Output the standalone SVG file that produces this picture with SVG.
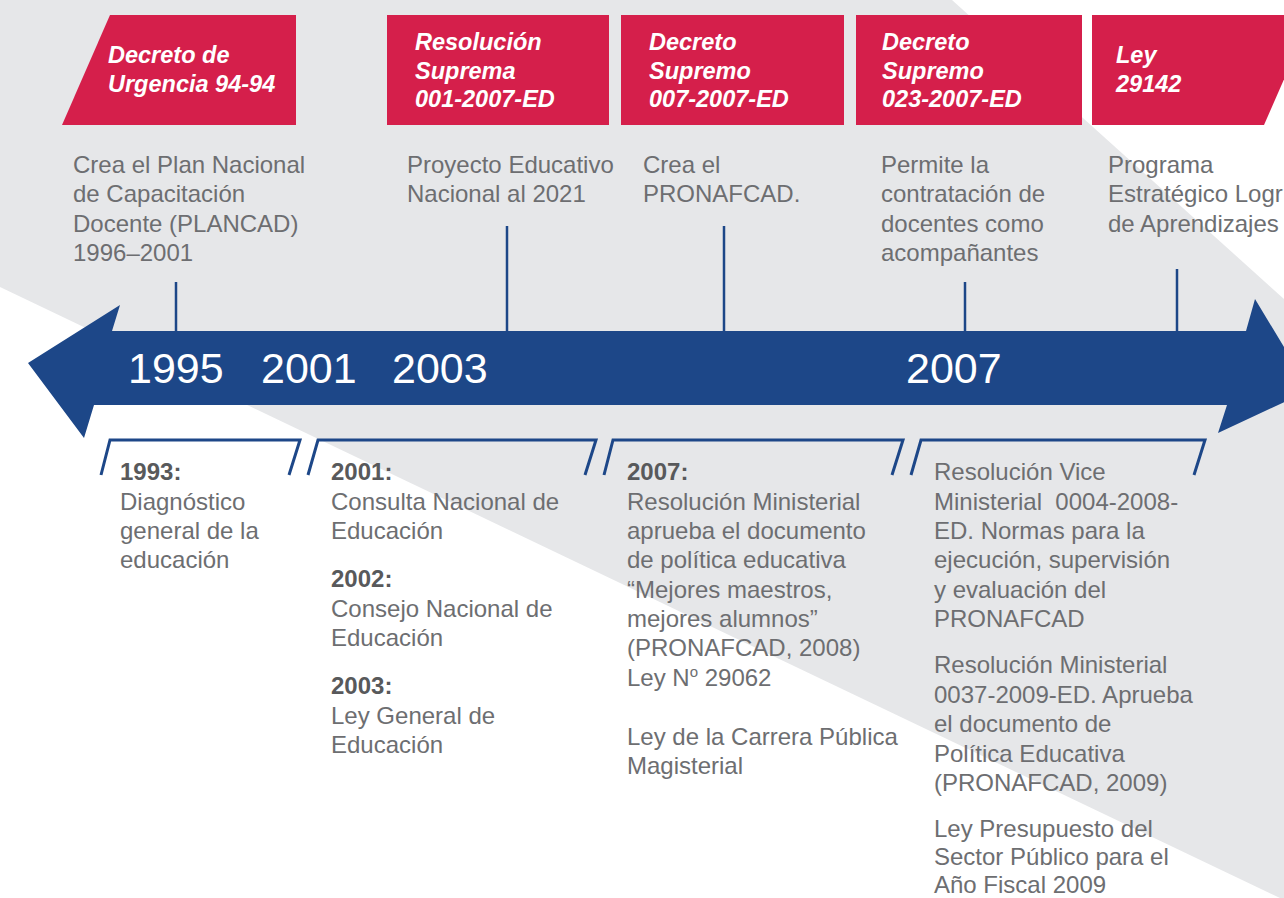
<svg xmlns="http://www.w3.org/2000/svg" width="1284" height="898" viewBox="0 0 1284 898">
<style>
.hd{font-family:"Liberation Sans",Arial,sans-serif;font-weight:bold;font-style:italic;font-size:23.5px;fill:#ffffff}
.ds{font-family:"Liberation Sans",Arial,sans-serif;font-size:24px;fill:#6d6e71}
.bl{font-family:"Liberation Sans",Arial,sans-serif;font-size:24px;font-weight:bold;fill:#58595b}
.yr{font-family:"Liberation Sans",Arial,sans-serif;font-size:43px;fill:#ffffff}
.box{fill:#d51f4b}
.tick{stroke:#1d4788;stroke-width:2.5;fill:none}
.brk{stroke:#1d4788;stroke-width:3;fill:none;stroke-linejoin:miter}
</style>
<rect x="0" y="0" width="1284" height="898" fill="#e6e7e9"/>
<polygon points="952,0 1284,0 1284,299" fill="#ffffff"/>
<polygon points="0,287 1280,898 0,898" fill="#ffffff"/>

<g id="timeline-arrow">
<polygon points="28,363 120,305 112,331 1246,331 1255,299 1310,390 1218,433 1227,405 94,405 84,438" fill="#1d4788"/>
<text class="yr" x="128" y="383">1995</text>
<text class="yr" x="261" y="383">2001</text>
<text class="yr" x="392" y="383">2003</text>
<text class="yr" x="906" y="383">2007</text>
</g>

<g id="connectors">
<line class="tick" x1="176" y1="282" x2="176" y2="331"/>
<line class="tick" x1="507" y1="226" x2="507" y2="331"/>
<line class="tick" x1="724" y1="226" x2="724" y2="331"/>
<line class="tick" x1="965" y1="282" x2="965" y2="331"/>
<line class="tick" x1="1177" y1="269" x2="1177" y2="331"/>
</g>

<g id="node-decreto-urgencia">
<polygon class="box" points="110,15 296,15 296,125 62,125"/>
<text class="hd" x="108" y="63">Decreto de</text>
<text class="hd" x="108" y="92">Urgencia 94-94</text>
<text class="ds" x="73" y="173">Crea el Plan Nacional</text>
<text class="ds" x="73" y="202">de Capacitación</text>
<text class="ds" x="73" y="232">Docente (PLANCAD)</text>
<text class="ds" x="73" y="261">1996–2001</text>
</g>

<g id="node-resolucion-suprema">
<rect class="box" x="387" y="15" width="222" height="110"/>
<text class="hd" x="415" y="50">Resolución</text>
<text class="hd" x="415" y="79">Suprema</text>
<text class="hd" x="415" y="107">001-2007-ED</text>
<text class="ds" x="407" y="173">Proyecto Educativo</text>
<text class="ds" x="407" y="202">Nacional al 2021</text>
</g>

<g id="node-decreto-007">
<rect class="box" x="621" y="15" width="223" height="110"/>
<text class="hd" x="649" y="50">Decreto</text>
<text class="hd" x="649" y="79">Supremo</text>
<text class="hd" x="649" y="107">007-2007-ED</text>
<text class="ds" x="643" y="173">Crea el</text>
<text class="ds" x="643" y="202">PRONAFCAD.</text>
</g>

<g id="node-decreto-023">
<rect class="box" x="856" y="15" width="226" height="110"/>
<text class="hd" x="882" y="50">Decreto</text>
<text class="hd" x="882" y="79">Supremo</text>
<text class="hd" x="882" y="107">023-2007-ED</text>
<text class="ds" x="881" y="173">Permite la</text>
<text class="ds" x="881" y="202">contratación de</text>
<text class="ds" x="881" y="232">docentes como</text>
<text class="ds" x="881" y="261">acompañantes</text>
</g>

<g id="node-ley-29142">
<polygon class="box" points="1092,15 1312,15 1264,125 1092,125"/>
<text class="hd" x="1116" y="63">Ley</text>
<text class="hd" x="1116" y="92">29142</text>
<text class="ds" x="1108" y="173">Programa</text>
<text class="ds" x="1108" y="202">Estratégico Logr</text>
<text class="ds" x="1108" y="232">de Aprendizajes</text>
</g>

<g id="node-1993">
<polyline class="brk" points="101,475 110,440 300,440 289,475"/>
<text class="bl" x="120" y="480">1993:</text>
<text class="ds" x="120" y="510">Diagnóstico</text>
<text class="ds" x="120" y="539">general de la</text>
<text class="ds" x="120" y="568">educación</text>
</g>

<g id="node-2001-2003">
<polyline class="brk" points="308,475 318,440 596,440 585,475"/>
<text class="bl" x="331" y="480">2001:</text>
<text class="ds" x="331" y="510">Consulta Nacional de</text>
<text class="ds" x="331" y="539">Educación</text>
<text class="bl" x="331" y="587">2002:</text>
<text class="ds" x="331" y="617">Consejo Nacional de</text>
<text class="ds" x="331" y="646">Educación</text>
<text class="bl" x="331" y="694">2003:</text>
<text class="ds" x="331" y="724">Ley General de</text>
<text class="ds" x="331" y="753">Educación</text>
</g>

<g id="node-2007">
<polyline class="brk" points="604,475 613,440 903,440 892,475"/>
<text class="bl" x="627" y="480">2007:</text>
<text class="ds" x="627" y="510">Resolución Ministerial</text>
<text class="ds" x="627" y="539">aprueba el documento</text>
<text class="ds" x="627" y="568">de política educativa</text>
<text class="ds" x="627" y="598">“Mejores maestros,</text>
<text class="ds" x="627" y="627">mejores alumnos”</text>
<text class="ds" x="627" y="656">(PRONAFCAD, 2008)</text>
<text class="ds" x="627" y="686">Ley N<tspan font-size="15" dy="-9">o</tspan><tspan dy="9"> 29062</tspan></text>
<text class="ds" x="627" y="745">Ley de la Carrera Pública</text>
<text class="ds" x="627" y="774">Magisterial</text>
</g>

<g id="node-2008-2009">
<polyline class="brk" points="911,475 921,440 1205,440 1194,475"/>
<text class="ds" x="934" y="480">Resolución Vice</text>
<text class="ds" x="934" y="510" xml:space="preserve">Ministerial  0004-2008-</text>
<text class="ds" x="934" y="539">ED. Normas para la</text>
<text class="ds" x="934" y="568">ejecución, supervisión</text>
<text class="ds" x="934" y="598">y evaluación del</text>
<text class="ds" x="934" y="627">PRONAFCAD</text>
<text class="ds" x="934" y="673">Resolución Ministerial</text>
<text class="ds" x="934" y="703">0037-2009-ED. Aprueba</text>
<text class="ds" x="934" y="732">el documento de</text>
<text class="ds" x="934" y="762">Política Educativa</text>
<text class="ds" x="934" y="791">(PRONAFCAD, 2009)</text>
<text class="ds" x="934" y="837">Ley Presupuesto del</text>
<text class="ds" x="934" y="865">Sector Público para el</text>
<text class="ds" x="934" y="893">Año Fiscal 2009</text>
</g>
</svg>
